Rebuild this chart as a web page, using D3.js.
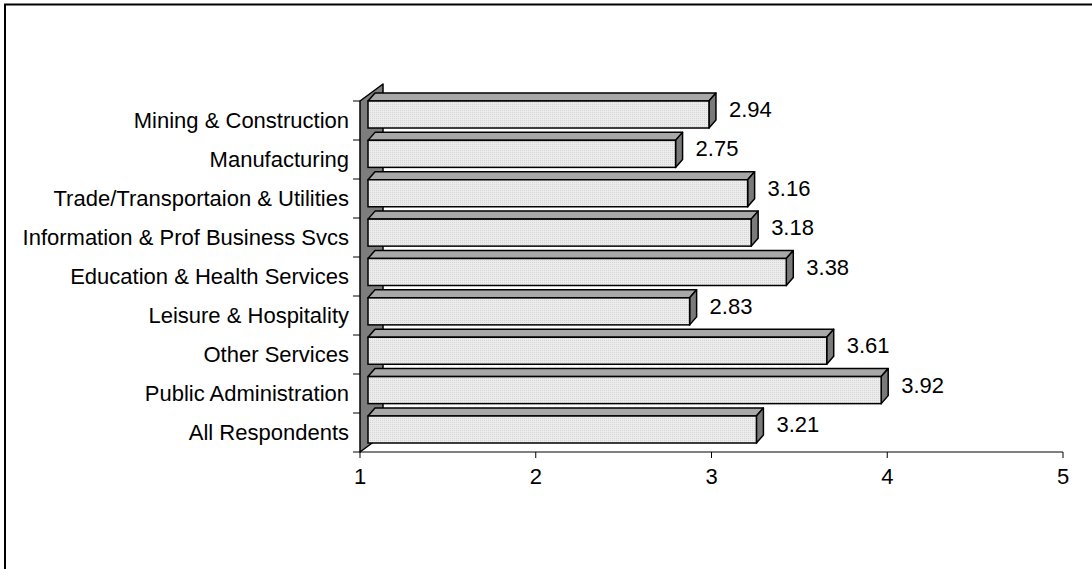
<!DOCTYPE html>
<html>
<head>
<meta charset="utf-8">
<script src="https://cdn.jsdelivr.net/npm/d3@7"></script>
<style>
  html, body { margin: 0; padding: 0; background: #fff; }
  svg { display: block; }
  text { font-family: "Liberation Sans", Arial, sans-serif; fill: #000; }
</style>
</head>
<body>
<svg id="chart" width="1092" height="569"></svg>
<script>
// Industry groups, top to bottom
const categories = [
  "Mining & Construction",
  "Manufacturing",
  "Trade/Transportaion & Utilities",
  "Information & Prof Business Svcs",
  "Education & Health Services",
  "Leisure & Hospitality",
  "Other Services",
  "Public Administration",
  "All Respondents"
];
// Mean score per group
const values = [2.94, 2.75, 3.16, 3.18, 3.38, 2.83, 3.61, 3.92, 3.21];
// Value axis ticks
const tickValues = [1, 2, 3, 4, 5];

const FONT = 22;
const svg = d3.select("#chart");

// Fine dotted fill for the bar fronts
const defs = svg.append("defs");
const pat = defs.append("pattern")
  .attr("id", "dots").attr("width", 2).attr("height", 2)
  .attr("patternUnits", "userSpaceOnUse");
pat.append("rect").attr("width", 2).attr("height", 2).attr("fill", "#ececec");
pat.append("rect").attr("width", 1).attr("height", 1).attr("fill", "#d6d6d6");

// Outer frame
svg.append("rect")
  .attr("x", 5).attr("y", 4.5)
  .attr("width", 1200).attr("height", 700)
  .attr("fill", "#fff").attr("stroke", "#000").attr("stroke-width", 2);

const x = d3.scaleLinear().domain([1, 5]).range([360, 1063]);
// Category bands on the front plane (tick spacing)
const band = d3.scaleBand().domain(categories).range([101, 452]);
// Bar front faces
const y = d3.scaleBand().domain(categories).range([101, 443])
  .paddingInner(0.314).paddingOuter(0);

// Oblique depth of the wall and of the bar slice
const wallD = [23, -17];
const barFront = [8, 0];
const barDepth = [7, -8];

const g = svg.append("g");

// Left wall (floor of the horizontal bar chart)
const yTop = 101, yBot = 452;
g.append("path")
  .attr("d", `M${x(1)},${yTop} L${x(1) + wallD[0]},${yTop + wallD[1]} L${x(1) + wallD[0]},${yBot + wallD[1]} L${x(1)},${yBot} Z`)
  .attr("fill", "#7d7d7d").attr("stroke", "#000").attr("stroke-width", 1.5)
  .attr("stroke-linejoin", "round");

// Category ticks on the left edge
g.selectAll("line.ctick")
  .data(d3.range(categories.length + 1))
  .join("line")
  .attr("class", "ctick")
  .attr("x1", x(1) - 7).attr("x2", x(1))
  .attr("y1", i => yTop + i * band.step()).attr("y2", i => yTop + i * band.step())
  .attr("stroke", "#000");

// Value axis
g.append("line")
  .attr("x1", x(1)).attr("x2", x(5))
  .attr("y1", yBot).attr("y2", yBot)
  .attr("stroke", "#000");
g.selectAll("line.vtick")
  .data(tickValues)
  .join("line")
  .attr("class", "vtick")
  .attr("x1", d => x(d)).attr("x2", d => x(d))
  .attr("y1", yBot).attr("y2", yBot + 6)
  .attr("stroke", "#000");
g.selectAll("text.vlab")
  .data(tickValues)
  .join("text")
  .attr("class", "vlab")
  .attr("x", d => x(d)).attr("y", yBot + 24)
  .attr("text-anchor", "middle").attr("dominant-baseline", "central")
  .attr("font-size", FONT)
  .text(d => d);

// Category labels
g.selectAll("text.clab")
  .data(categories)
  .join("text")
  .attr("class", "clab")
  .attr("x", 349)
  .attr("y", d => band(d) + band.bandwidth() / 2)
  .attr("text-anchor", "end").attr("dominant-baseline", "central")
  .attr("font-size", FONT)
  .text(d => d);

// Bars as boxes: top face, right face, front face
const bars = g.selectAll("g.bar")
  .data(categories.map((c, i) => ({ c, v: values[i] })))
  .join("g").attr("class", "bar");

bars.each(function (d) {
  const sel = d3.select(this);
  const x0 = x(1) + barFront[0], x1 = x(d.v) + barFront[0];
  const y0 = y(d.c) + barFront[1], y1 = y0 + y.bandwidth();
  const [dx, dy] = barDepth;
  sel.append("path")
    .attr("d", `M${x0},${y0} L${x0 + dx},${y0 + dy} L${x1 + dx},${y0 + dy} L${x1},${y0} Z`)
    .attr("fill", "#a8a8a8").attr("stroke", "#000").attr("stroke-width", 1.5).attr("stroke-linejoin", "round");
  sel.append("path")
    .attr("d", `M${x1},${y0} L${x1 + dx},${y0 + dy} L${x1 + dx},${y1 + dy} L${x1},${y1} Z`)
    .attr("fill", "#7a7a7a").attr("stroke", "#000").attr("stroke-width", 1.5).attr("stroke-linejoin", "round");
  sel.append("rect")
    .attr("x", x0).attr("y", y0).attr("width", x1 - x0).attr("height", y1 - y0)
    .attr("fill", "url(#dots)").attr("stroke", "#000").attr("stroke-width", 1.5);
  sel.append("text")
    .attr("x", x1 + dx + 13)
    .attr("y", (y0 + y1) / 2 + dy / 2 - 1)
    .attr("dominant-baseline", "central")
    .attr("font-size", FONT)
    .text(d3.format(".2f")(d.v));
});
</script>
</body>
</html>
